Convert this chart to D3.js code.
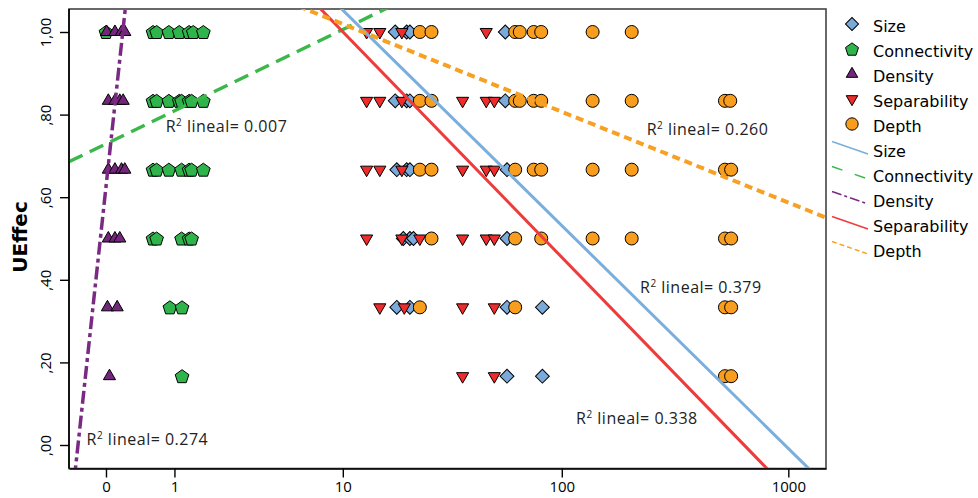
<!DOCTYPE html>
<html>
<head>
<meta charset="utf-8">
<script src="https://cdn.jsdelivr.net/npm/d3@7"></script>
<style>
  body { margin: 0; background: #fff; }
  .tick text { font-family: "Open Sans", sans-serif; font-size: 15px; fill: #000; }
</style>
</head>
<body>
<svg id="chart" width="978" height="498"></svg>
<script>
// UEffec levels (rows of points)
var levels = [1, 5/6, 4/6, 3/6, 2/6, 1/6];

// x values of each series, one list per level above
var sizeRows = [
  [17.7, 20, 20.7, 56],
  [17.7, 20, 20.7, 56],
  [18, 20, 20.7, 57],
  [19.3, 20.7, 21.5, 57],
  [18, 20.7, 57, 82],
  [57, 82]
];
var connectivityRows = [
  [0, 0.61, 0.67, 0.89, 1.1, 1.32, 1.42, 1.68],
  [0.61, 0.67, 0.89, 1.1, 1.15, 1.32, 1.38, 1.68],
  [0.61, 0.67, 0.89, 1.15, 1.32, 1.38, 1.68],
  [0.61, 0.67, 1.15, 1.32, 1.38],
  [0.91, 1.16],
  [1.16]
];
var densityRows = [
  [0.007, 0.095, 0.17, 0.21],
  [0.024, 0.095, 0.15, 0.19],
  [0.024, 0.095, 0.17, 0.21],
  [0.024, 0.095, 0.15],
  [0.015, 0.12],
  [0.036]
];
var separabilityRows = [
  [13, 15, 19, 46],
  [13, 15, 19, 36, 46, 50],
  [13, 15, 19, 36, 46, 50],
  [13, 19, 23, 36, 46, 50],
  [15, 19.5, 36, 50],
  [36, 50]
];
var depthRows = [
  [23, 26, 62, 65, 75, 81, 137, 204],
  [23, 26, 62, 65, 75, 81, 137, 204, 526, 555],
  [23, 26, 62, 75, 81, 137, 204, 526, 560],
  [26, 62, 81, 137, 204, 526, 560],
  [23, 62, 526, 560],
  [526, 560]
];

var seriesNames = ["Size", "Connectivity", "Density", "Separability", "Depth"];

// linear fits: UEffec = a + b * log10(x + 1)
var fitA = [1.617, 0.729, 0.625, 1.591, 1.249];
var fitB = [-0.5417, 0.266, 5.08, -0.567, -0.2206];
var r2Values = ["0.379", "0.007", "0.274", "0.338", "0.260"];
// where each R2 label sits, in data units [x, y]
var r2Where = [[222, 0.368], [0.83, 0.7586], [-0.178, 0.0], [115.7, 0.052], [237.6, 0.7506]];

var xTicks = [0, 1, 10, 100, 1000];
var yTicks = [0, 0.2, 0.4, 0.6, 0.8, 1];

var colors = ["#7aaad9", "#2fb34b", "#74257c", "#ee2c2c", "#f89d1e"];
var lineColors = ["#7aaedc", "#3ab84a", "#7a2a82", "#ee3b3b", "#f8a023"];
var lineDash = [null, "15,8", "13,4,4,4", null, "8,5"];
var lineWidth = [3, 3.5, 3.5, 3, 4];
var legendDash = [null, "11,13", "10,3,3,3", null, "5,3"];

var plotL = 69, plotR = 826, plotT = 9, plotB = 468.5;

var svg = d3.select("#chart");

// log10(x+1) axis
var xLog = d3.scaleLog().domain([0.6877, 1466]).range([plotL, plotR]);
var X = function (v) { return xLog(v + 1); };
var y = d3.scaleLinear().domain([0, 1]).range([445, 32]);

var pentagon = {
  draw: function (ctx, size) {
    var r = Math.sqrt(size / 2.378);
    for (var i = 0; i < 5; i++) {
      var a = -Math.PI / 2 + i * 2 * Math.PI / 5;
      if (i) ctx.lineTo(r * Math.cos(a), r * Math.sin(a) + 0.7);
      else ctx.moveTo(r * Math.cos(a), r * Math.sin(a) + 0.7);
    }
    ctx.closePath();
  }
};
var symbolTypes = [d3.symbolSquare, pentagon, d3.symbolTriangle, d3.symbolTriangle, d3.symbolCircle];
var symbolSizes = [96, 123, 64, 64, 133];
var symbolRot = [45, 0, 0, 180, 0];

svg.append("defs").append("clipPath").attr("id", "plotClip")
  .append("rect").attr("x", plotL).attr("y", plotT)
  .attr("width", plotR - plotL).attr("height", plotB - plotT);

// frame
svg.append("rect")
  .attr("x", plotL).attr("y", plotT)
  .attr("width", plotR - plotL).attr("height", plotB - plotT)
  .attr("fill", "none").attr("stroke", "#444").attr("stroke-width", 1.6);

// points
var allRows = [sizeRows, connectivityRows, densityRows, separabilityRows, depthRows];
allRows.forEach(function (rows, s) {
  var pts = [];
  rows.forEach(function (row, i) {
    row.forEach(function (v) { pts.push({ x: v, y: levels[i] }); });
  });
  svg.append("g").selectAll("path")
    .data(pts)
    .enter().append("path")
    .attr("d", d3.symbol().type(symbolTypes[s]).size(symbolSizes[s]))
    .attr("transform", function (d) {
      return "translate(" + X(d.x) + "," + y(d.y) + ") rotate(" + symbolRot[s] + ")";
    })
    .attr("fill", colors[s])
    .attr("stroke", "#000")
    .attr("stroke-width", 1);
});

// fit lines
var tMin = Math.log10(0.6877), tMax = Math.log10(1466);
var fitLine = d3.line()
  .x(function (d) { return xLog(Math.pow(10, d[0])); })
  .y(function (d) { return y(d[1]); });
var linesG = svg.append("g").attr("clip-path", "url(#plotClip)");
seriesNames.forEach(function (name, s) {
  var ends = [tMin, tMax].map(function (t) { return [t, fitA[s] + fitB[s] * t]; });
  linesG.append("path")
    .attr("d", fitLine(ends))
    .attr("fill", "none")
    .attr("stroke", lineColors[s])
    .attr("stroke-width", lineWidth[s])
    .attr("stroke-dasharray", lineDash[s]);
});

// R2 labels
r2Values.forEach(function (r2, s) {
  var t = svg.append("text")
    .attr("x", X(r2Where[s][0]))
    .attr("y", y(r2Where[s][1]))
    .attr("font-family", "Open Sans, sans-serif")
    .attr("font-size", 16)
    .attr("letter-spacing", 0.5)
    .attr("fill", "#222");
  t.append("tspan").text("R");
  t.append("tspan").attr("font-size", 10).attr("dy", -6).text("2");
  t.append("tspan").attr("dy", 6).text(" lineal= " + r2);
});

// axes
svg.append("g")
  .attr("transform", "translate(0," + plotB + ")")
  .call(d3.axisBottom(xLog)
    .tickValues(xTicks.map(function (d) { return d + 1; }))
    .tickFormat(function (d) { return String(Math.round(d - 1)); })
    .tickSize(9).tickSizeOuter(0).tickPadding(4))
  .call(function (g) {
    g.select(".domain").attr("stroke", "#000").attr("stroke-width", 1.6);
    g.selectAll(".tick line").attr("stroke-width", 1.4);
  });

var yAxis = svg.append("g")
  .attr("transform", "translate(" + plotL + ",0)")
  .call(d3.axisLeft(y)
    .tickValues(yTicks)
    .tickFormat(function (d) { return d === 1 ? "1,00" : "," + d3.format(".2f")(d).slice(2); })
    .tickSize(9).tickSizeOuter(0))
  .call(function (g) {
    g.select(".domain").attr("d", "M0," + plotT + "V" + plotB)
      .attr("stroke", "#000").attr("stroke-width", 1.6);
    g.selectAll(".tick line").attr("stroke-width", 1.4);
  });
yAxis.selectAll(".tick text")
  .attr("x", null).attr("dy", null)
  .attr("text-anchor", "middle")
  .attr("transform", "translate(-18,0) rotate(-90)");

// y title
svg.append("text")
  .attr("transform", "translate(27,237) rotate(-90)")
  .attr("text-anchor", "middle")
  .attr("font-family", "DejaVu Sans, sans-serif")
  .attr("font-weight", "bold")
  .attr("font-size", 20)
  .text("UEffec");

// legend
var lg = svg.append("g").attr("font-family", "DejaVu Sans, sans-serif").attr("font-size", 16);
seriesNames.forEach(function (name, s) {
  var yc = 26.5 + 25 * s;
  lg.append("path")
    .attr("d", d3.symbol().type(symbolTypes[s]).size(symbolSizes[s] * 0.9))
    .attr("transform", "translate(852," + (yc - 2.5) + ") rotate(" + symbolRot[s] + ")")
    .attr("fill", colors[s]).attr("stroke", "#000").attr("stroke-width", 1);
  lg.append("text").attr("x", 873).attr("y", yc).attr("dy", "0.36em").text(name);
});
seriesNames.forEach(function (name, s) {
  var yc = 26.5 + 25 * (s + 5);
  lg.append("line")
    .attr("x1", 832).attr("y1", yc - 10).attr("x2", 868).attr("y2", yc + 2.5)
    .attr("stroke", lineColors[s]).attr("stroke-width", 1.5)
    .attr("stroke-dasharray", legendDash[s]);
  lg.append("text").attr("x", 873).attr("y", yc).attr("dy", "0.36em").text(name);
});
</script>
</body>
</html>
